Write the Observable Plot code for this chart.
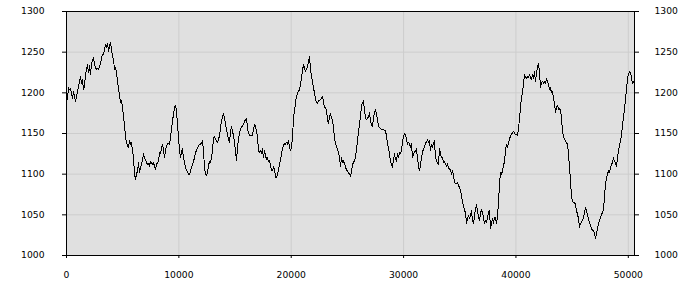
<!DOCTYPE html>
<html><head><meta charset="utf-8">
<script src="https://cdn.jsdelivr.net/npm/d3@7"></script>
<script src="https://cdn.jsdelivr.net/npm/@observablehq/plot@0.6"></script>
<style>body{margin:0;background:#fff}</style>
</head><body><div id="chart"></div>
<script>
const xStep = 89;
const values = [
1202,1192,1206,1204,1205,1200,1193,1202,1196,1189,1195,1202,1208,1214,1220,1212,1216,1204,1208,1222,
1229,1235,1225,1233,1222,1235,1241,1243,1235,1231,1229,1230,1229,1233,1235,1243,1247,1247,1253,1260,
1256,1261,1251,1257,1262,1253,1245,1241,1229,1231,1225,1214,1206,1196,1188,1190,1182,1171,1161,1145,
1139,1135,1133,1141,1137,1139,1129,1120,1100,1094,1100,1104,1114,1102,1108,1112,1118,1125,1120,1118,
1114,1112,1113,1110,1116,1114,1112,1114,1110,1106,1112,1114,
1116,1127,1125,1131,1137,1129,1120,1129,1135,1137,1138,1137,1145,1155,1165,1174,1182,1184,1178,1161,
1145,1129,1120,1127,1131,1120,1114,1108,1105,1103,1100,1099,1104,1108,1112,1116,1120,1127,1129,1132,
1135,1137,1137,1138,1141,1129,1108,1100,1098,1102,1110,1116,1114,1120,1129,1145,1146,1143,1141,1139,
1143,1147,1157,1165,1170,1174,1169,1161,1155,1149,1143,1139,1151,1159,1153,1147,1139,1129,1117,1133,
1143,1151,1155,1158,1159,1161,1165,1167,1169,1157,1150,1148,1147,1148,
1148,1155,1161,1159,1153,1145,1129,1127,1129,1125,1131,1120,1129,1123,1118,1120,1116,1117,1110,1105,
1104,1109,1106,1096,1096,1099,1106,1112,1118,1125,1131,1135,1138,1137,1139,1137,1141,1133,1129,1133,
1145,1169,1178,1188,1196,1199,1202,1204,1210,1218,1227,1235,1231,1226,1229,1233,1237,1245,1229,1220,
1214,1206,1200,1192,1188,1187,1190,1190,1192,1193,1196,1188,1182,1182,1178,1167,1162,1171,1174,1169,
1167,1157,1145,1137,1134,1131,1127,1120,1110,1120,1114,1117,1112,1110,1104,
1104,1102,1100,1097,1104,1112,1114,1117,1120,1131,1141,1153,1161,1171,1184,1188,1190,1178,1169,1167,
1169,1170,1176,1165,1161,1159,1169,1176,1180,1174,1167,1159,1157,1156,1155,1155,1155,1154,1153,1147,
1137,1133,1125,1116,1112,1108,1118,1125,1118,1116,1125,1120,1127,1125,1129,1139,1147,1150,1149,1143,
1137,1139,1137,1133,1138,1120,1125,1127,1129,1131,1120,1110,1104,1112,1120,1127,1131,1133,1138,1140,
1142,1139,1141,1129,1137,1133,1138,1141,1120,1118,1113,1112,
1132,1125,1120,1120,1114,1116,1112,1110,1113,1108,1106,1105,1100,1105,1098,1090,1088,1088,1090,1086,
1084,1080,1074,1065,1061,1055,1053,1039,1045,1049,1045,1049,1055,1043,1039,1049,1057,1063,1055,1047,
1043,1051,1057,1053,1047,1039,1043,1041,1047,1053,1055,1033,1039,1045,1039,1047,1047,1039,1049,1065,
1088,1102,1100,1104,1110,1116,1129,1137,1133,1139,1143,1147,1149,1151,1153,1150,1149,1149,1148,1155,
1169,1182,1194,1200,1212,1222,1220,1218,1220,1219,1223,1218,1216,1222,1218,1226,1214,
1225,1231,1236,1225,1206,1212,1214,1212,1214,1211,1218,1214,1211,1204,1206,1200,1202,1194,1186,1176,
1182,1185,1180,1181,1178,1169,1153,1146,1143,1141,1138,1137,1125,1108,1092,1072,1067,1065,1065,1063,
1055,1051,1045,1035,1039,1041,1043,1047,1053,1059,1055,1049,1045,1041,1037,1033,1031,1031,1027,1021,
1027,1033,1039,1043,1047,1050,1053,1057,1072,1088,1096,1100,1104,1102,1108,1112,1114,1120,1116,1114,
1110,1120,1129,1135,1141,1147,1161,1169,1180,1192,1204,1218,1223,1226,1225,1218,1212,1214,1211
];
const yTicks = [1000, 1050, 1100, 1150, 1200, 1250, 1300];
const xTicks = [0, 10000, 20000, 30000, 40000, 50000];
const data = values.map((v, i) => ({x: i * xStep, y: v}));
const xMax = (values.length - 1) * xStep;

const chart = Plot.plot({
  width: 700,
  height: 300,
  marginLeft: 66,
  marginRight: 66,
  marginTop: 11,
  marginBottom: 45,
  style: {fontFamily: "DejaVu Sans", fontSize: "9.2px", color: "#000", background: "#fff"},
  x: {domain: [0, xMax]},
  y: {domain: [1000, 1300]},
  marks: [
    Plot.frame({fill: "#e0e0e0", stroke: "none"}),
    Plot.gridX(xTicks, {stroke: "#cdcdcd", strokeOpacity: 1}),
    Plot.gridY(yTicks, {stroke: "#cdcdcd", strokeOpacity: 1}),
    Plot.line(data, {x: "x", y: "y", stroke: "#000", strokeWidth: 1, shapeRendering: "crispEdges"}),
    Plot.frame({stroke: "#000", strokeWidth: 1}),
    Plot.axisY(yTicks, {anchor: "left", tickSize: 4, tickPadding: 18, label: null, tickFormat: "d", stroke: "#000"}),
    Plot.axisY(yTicks, {anchor: "right", tickSize: 4, tickPadding: 16, label: null, tickFormat: "d", stroke: "#000"}),
    Plot.axisX(xTicks, {anchor: "bottom", tickSize: 3, tickPadding: 13, label: null, tickFormat: "d", stroke: "#000"})
  ]
});
document.getElementById("chart").appendChild(chart);
</script>
</body></html>
